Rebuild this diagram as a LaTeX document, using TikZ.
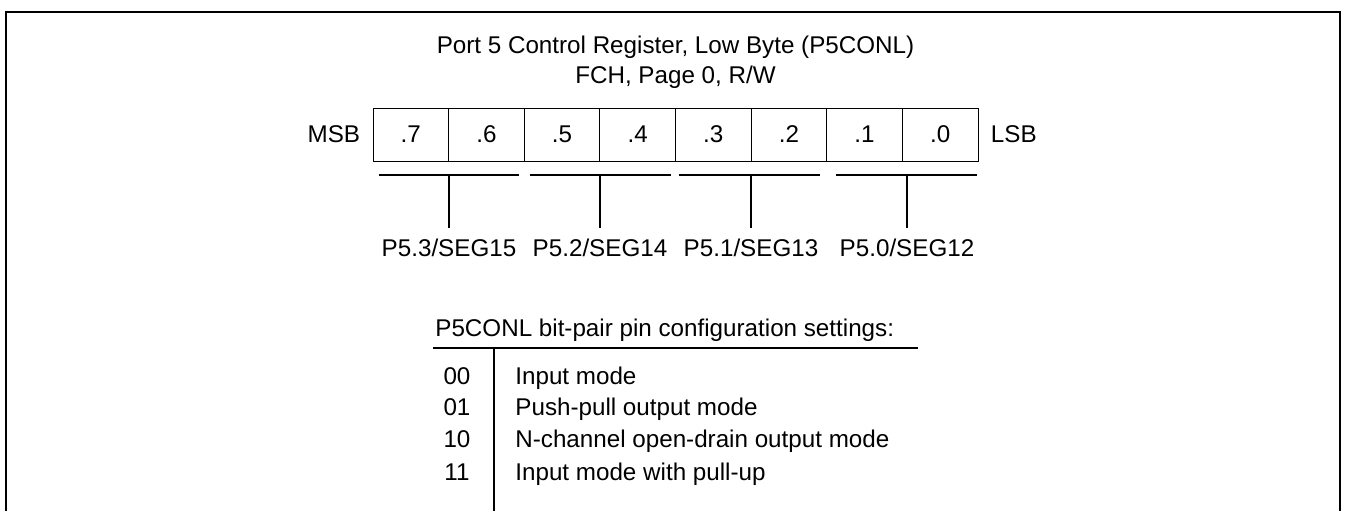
\documentclass[tikz,border=0pt]{standalone}
\usepackage{fontspec}
\setmainfont{Liberation Sans}
\usetikzlibrary{positioning}
\tikzset{
  lbl/.style={inner sep=0pt, font=\fontsize{12.1}{14}\selectfont},
  bitcell/.style={lbl, draw, line width=0.5pt, minimum width=37.81pt, minimum height=26.5pt},
  brk/.style={line width=0.9pt},
}

\begin{document}
\begin{tikzpicture}[x=0.5pt, y=-0.5pt]
  \useasboundingbox (0,0) rectangle (1351,511);

  % Frame, open at the bottom
  \draw[line width=1pt] (6,511) -- (6,12) -- (1340,12) -- (1340,511);

  % Title
  \node[lbl, anchor=base] (title) at (675.5,53) {Port 5 Control Register, Low Byte (P5CONL)};
  \node[lbl, anchor=base] (addr) at (675.5,83) {FCH, Page 0, R/W};

  % Register cells .7 ... .0
  \foreach \i in {0,...,7} {
    \pgfmathsetmacro{\bit}{int(7-\i)}
    \node[bitcell] (b\bit) at ({373+75.625*(\i+0.5)},134.5) {.\bit};
  }
  \node[lbl, left=6pt of b7] (msb) {MSB};
  \node[lbl, right=6pt of b0] (lsb) {LSB};

  % Bit-pair brackets and pin names
  \foreach \n/\xa/\xb/\xt/\seg in {
    3/379/519/449/15,
    2/530/671/600/14,
    1/679/820/751/13,
    0/836/977/907/12
  } {
    \coordinate (bl\n) at (\xa,175);
    \coordinate (br\n) at (\xb,175);
    \coordinate (bm\n) at (\xt,175);
    \node[lbl, anchor=base] (pin\n) at (\xt,256) {P5.\n/SEG\seg};
    \draw[brk] (bl\n) -- (br\n);
    \draw[brk, shorten >=5pt] (bm\n) -- (pin\n.north);
  }

  % Settings table
  \node[lbl, anchor=base west] (head) at (435,336) {P5CONL bit-pair pin configuration settings:};
  \coordinate (rl) at (433,348);
  \coordinate (rr) at (918,348);
  \coordinate (vt) at (494,348);
  \coordinate (vb) at (494,511);
  \draw[brk] (rl) -- (rr);
  \draw[brk] (vt) -- (vb);

  \foreach \code/\y/\txt in {
    00/384/{Input mode},
    01/415/{Push-pull output mode},
    10/447/{N-channel open-drain output mode},
    11/480/{Input mode with pull-up}
  } {
    \node[lbl, anchor=base] (c\code) at (457,\y) {\code};
    \node[lbl, anchor=base west] (m\code) at (515,\y) {\txt};
  }
\end{tikzpicture}
\end{document}
